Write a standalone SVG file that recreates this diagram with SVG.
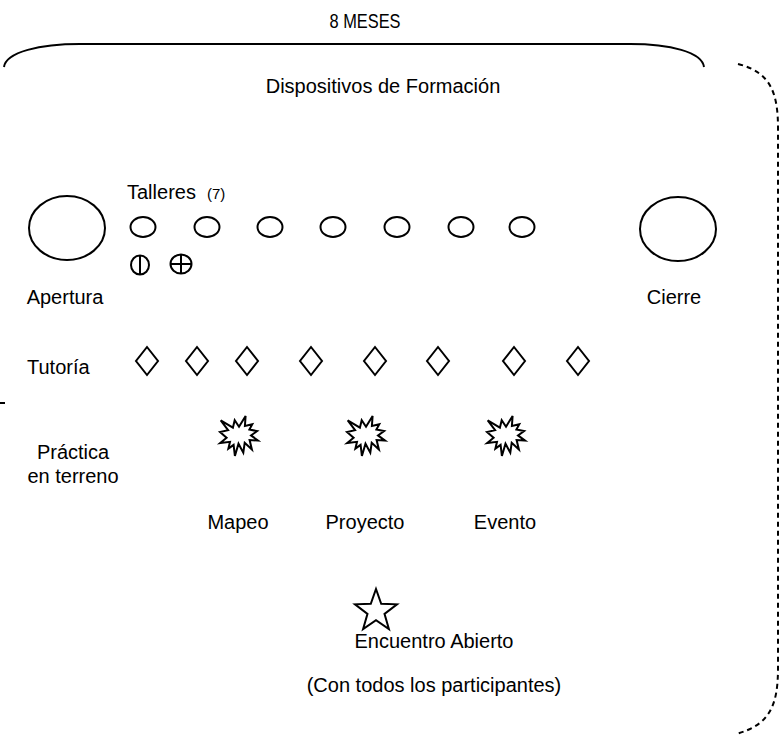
<svg xmlns="http://www.w3.org/2000/svg" width="782" height="737" viewBox="0 0 782 737">
<style>
text{font-family:"Liberation Sans",Arial,sans-serif;font-size:20px;fill:#000}
.s{fill:none;stroke:#000;stroke-width:2}
.d{fill:none;stroke:#000;stroke-width:2;stroke-dasharray:5 4}
</style>
<defs>
<polygon id="burst" class="s" points="19,10.7 25.6,0 24.9,9.9 32.3,8.3 29.4,13.6 37.1,15.1 31,19.4 38,24.6 29.6,24 31.9,33.5 24.7,26.8 23.3,36.6 18.5,27.7 14.9,40 13.6,28.9 8.4,32.6 10,25.8 0.2,27 6.6,21.8 0,16 8.1,14.1 0.7,4.3 12.9,11.7 14.7,4.3"/>
<polygon id="dia" class="s" points="0,-14 11,0 0,14 -11,0"/>
<ellipse id="tal" class="s" cx="0" cy="0" rx="12.5" ry="10"/>
</defs>
<g id="connectors">
<path id="brace-top" class="s" d="M4,67 C6,52 40,44 80,44 L630,44 C670,44 702,52 704,67"/>
<path id="bracket-right" class="d" d="M738,64 C770,72 778,92 778,128 L778,668 C778,705 770,725 736,734"/>
<path id="tick-left" class="s" d="M0,403 L5,403"/>
</g>
<g id="title"><text x="365" y="28" text-anchor="middle" textLength="71" lengthAdjust="spacingAndGlyphs">8 MESES</text></g>
<g id="dispositivos"><text x="383" y="93" text-anchor="middle" font-size="21">Dispositivos de Formación</text></g>
<g id="apertura">
<ellipse class="s" cx="67" cy="228" rx="38" ry="32"/>
<text x="65" y="304" text-anchor="middle">Apertura</text>
</g>
<g id="cierre">
<ellipse class="s" cx="678" cy="229" rx="38" ry="32"/>
<text x="674" y="304" text-anchor="middle">Cierre</text>
</g>
<g id="talleres">
<text x="127" y="199">Talleres<tspan x="207" font-size="15">(7)</tspan></text>
<use href="#tal" x="143" y="227"/>
<use href="#tal" x="207" y="227"/>
<use href="#tal" x="270" y="227"/>
<use href="#tal" x="333" y="227"/>
<use href="#tal" x="397" y="227"/>
<use href="#tal" x="461" y="227"/>
<use href="#tal" x="522" y="227"/>
<ellipse class="s" cx="140" cy="265" rx="9" ry="9.5"/>
<line class="s" x1="140" y1="255.5" x2="140" y2="274.5"/>
<ellipse class="s" cx="181" cy="264" rx="10.5" ry="9.5"/>
<line class="s" x1="181" y1="254.5" x2="181" y2="273.5"/>
<line class="s" x1="170.5" y1="264" x2="191.5" y2="264"/>
</g>
<g id="tutoria">
<text x="27" y="374">Tutoría</text>
<use href="#dia" x="147" y="361"/>
<use href="#dia" x="197" y="361"/>
<use href="#dia" x="247" y="361"/>
<use href="#dia" x="311" y="361"/>
<use href="#dia" x="375" y="361"/>
<use href="#dia" x="438" y="361"/>
<use href="#dia" x="514" y="361"/>
<use href="#dia" x="578" y="361"/>
</g>
<g id="practica">
<text x="73" y="459" text-anchor="middle">Práctica</text>
<text x="73" y="483" text-anchor="middle">en terreno</text>
<use href="#burst" x="220" y="416"/>
<use href="#burst" x="347" y="416"/>
<use href="#burst" x="487" y="416"/>
<text x="238" y="529" text-anchor="middle">Mapeo</text>
<text x="365" y="529" text-anchor="middle">Proyecto</text>
<text x="505" y="529" text-anchor="middle">Evento</text>
</g>
<g id="encuentro">
<polygon class="s" points="376,589 381.2,603.8 397,604.3 384.5,613.9 388.9,629 376,620.2 363.1,629 367.5,613.9 355,604.3 370.8,603.8"/>
<text x="434" y="648" text-anchor="middle">Encuentro Abierto</text>
<text x="434" y="692" text-anchor="middle">(Con todos los participantes)</text>
</g>
</svg>
